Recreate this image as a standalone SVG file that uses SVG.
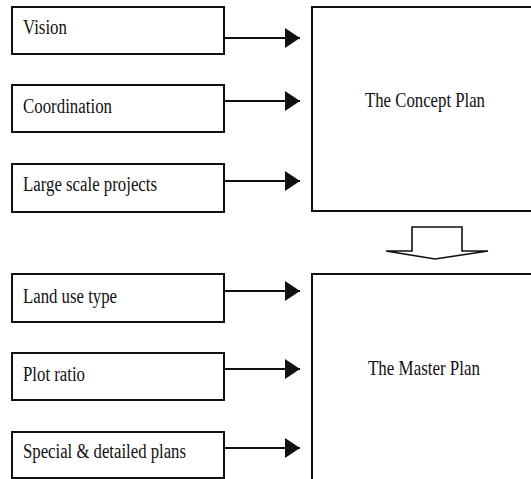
<svg xmlns="http://www.w3.org/2000/svg" width="531" height="479" viewBox="0 0 531 479">
<defs>
<style>
.box{fill:#fff;stroke:#111;stroke-width:2}
.ln{stroke:#111;stroke-width:2;fill:none}
</style>
<marker id="ah" viewBox="0 0 15 20" refX="15" refY="10" markerWidth="15" markerHeight="20" markerUnits="userSpaceOnUse" orient="auto">
<path d="M0,0 L15,10 L0,20 Z" fill="#111"/>
</marker>
</defs>
<rect width="531" height="479" fill="#fff"/>
<g id="nodes" font-family="Liberation Serif, serif" font-size="20" fill="#111">
<g id="vision"><rect class="box" x="12" y="7" width="212" height="47"/><text x="23" y="34" textLength="44" lengthAdjust="spacingAndGlyphs">Vision</text></g>
<g id="coordination"><rect class="box" x="12" y="85" width="212" height="47"/><text x="23" y="113" textLength="89" lengthAdjust="spacingAndGlyphs">Coordination</text></g>
<g id="large"><rect class="box" x="12" y="164" width="212" height="48"/><text x="23" y="191" textLength="134" lengthAdjust="spacingAndGlyphs">Large scale projects</text></g>
<g id="landuse"><rect class="box" x="12" y="274" width="212" height="48"/><text x="23" y="302.5" textLength="94" lengthAdjust="spacingAndGlyphs">Land use type</text></g>
<g id="plotratio"><rect class="box" x="12" y="353" width="212" height="47"/><text x="23" y="380.5" textLength="62" lengthAdjust="spacingAndGlyphs">Plot ratio</text></g>
<g id="special"><rect class="box" x="12" y="432" width="212" height="46"/><text x="23" y="458" textLength="163" lengthAdjust="spacingAndGlyphs">Special &amp; detailed plans</text></g>
<g id="concept" font-size="21"><rect class="box" x="312" y="7" width="230" height="204"/><text x="365" y="107" textLength="120" lengthAdjust="spacingAndGlyphs">The Concept Plan</text></g>
<g id="master" font-size="21"><rect class="box" x="312" y="274" width="230" height="214"/><text x="368" y="375" textLength="112" lengthAdjust="spacingAndGlyphs">The Master Plan</text></g>
</g>
<g id="connectors">
<line class="ln" x1="224" y1="38" x2="300" y2="38" marker-end="url(#ah)"/>
<line class="ln" x1="224" y1="101" x2="300" y2="101" marker-end="url(#ah)"/>
<line class="ln" x1="224" y1="181" x2="300" y2="181" marker-end="url(#ah)"/>
<line class="ln" x1="224" y1="291" x2="300" y2="291" marker-end="url(#ah)"/>
<line class="ln" x1="224" y1="369" x2="300" y2="369" marker-end="url(#ah)"/>
<line class="ln" x1="224" y1="448" x2="300" y2="448" marker-end="url(#ah)"/>
<polygon points="412,227 462,227 462,251 488,251 435,259 386,251 412,251" fill="#fff" stroke="#111" stroke-width="1.6" stroke-linejoin="miter"/>
</g>
</svg>
